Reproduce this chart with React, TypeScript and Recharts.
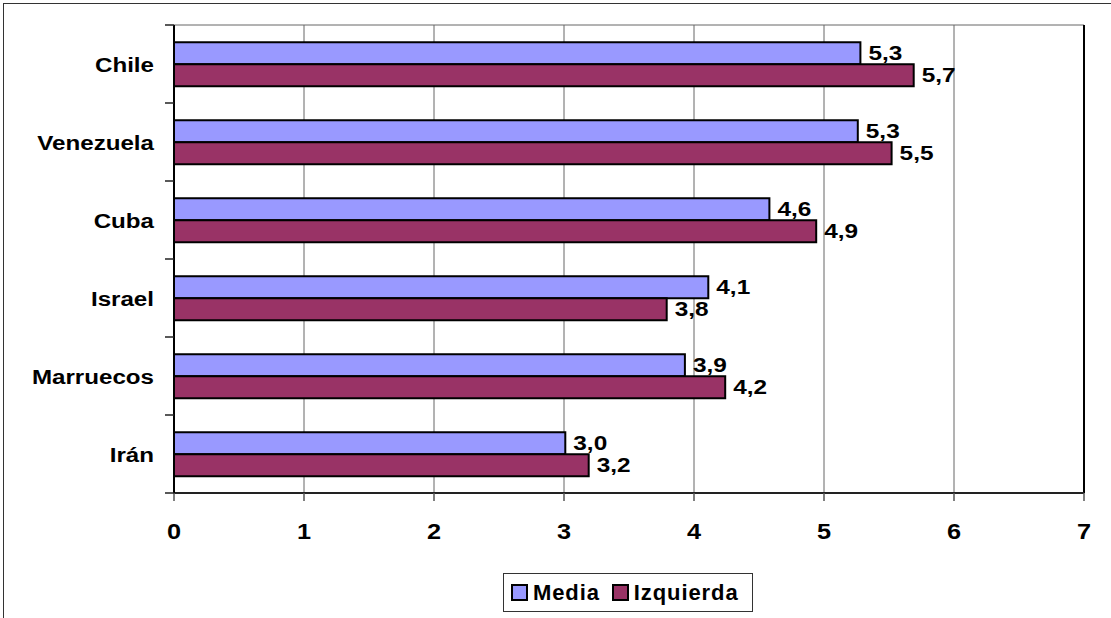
import React from 'react';
import {
  BarChart,
  Bar,
  XAxis,
  YAxis,
  CartesianGrid,
  Legend,
  LabelList,
  ReferenceLine,
} from 'recharts';

const categories = ['Chile', 'Venezuela', 'Cuba', 'Israel', 'Marruecos', 'Irán'];
const mediaValues = [5.28, 5.26, 4.58, 4.11, 3.93, 3.01];
const izquierdaValues = [5.69, 5.52, 4.94, 3.79, 4.24, 3.19];
const xTicks = [0, 1, 2, 3, 4, 5, 6, 7];
const seriesNames = ['Media', 'Izquierda'];
const seriesColors = ['#9999FF', '#993366'];

const data = categories.map((name, i) => ({
  name,
  [seriesNames[0]]: mediaValues[i],
  [seriesNames[1]]: izquierdaValues[i],
}));

const FONT = 'Arial, "Liberation Sans", sans-serif';
const STRETCH = 1.15;
const HALF_BAND = 39;

const fmt = (v: number) => v.toFixed(1).replace('.', ',');

const YTick = (props: any) => {
  const { x, y, payload, index } = props;
  const axisX = x + 20;
  const last = index === categories.length - 1;
  return (
    <g>
      <line x1={axisX - 9} x2={axisX} y1={y - HALF_BAND} y2={y - HALF_BAND} stroke="#222" strokeWidth={1.5} />
      {last && (
        <line x1={axisX - 9} x2={axisX} y1={y + HALF_BAND} y2={y + HALF_BAND} stroke="#222" strokeWidth={1.5} />
      )}
      <g transform={`translate(${x},${y}) scale(${STRETCH},1)`}>
        <text x={0} y={0} dy="0.36em" textAnchor="end" fontSize={21} fontWeight="bold" fill="#000" fontFamily={FONT}>
          {payload.value}
        </text>
      </g>
    </g>
  );
};

const XTick = (props: any) => {
  const { x, y, payload } = props;
  return (
    <g transform={`translate(${x},${y + 35.5}) scale(${STRETCH},1)`}>
      <text x={0} y={0} textAnchor="middle" fontSize={22} fontWeight="bold" fill="#000" fontFamily={FONT}>
        {payload.value}
      </text>
    </g>
  );
};

const ValueLabel = (props: any) => {
  const { x, y, width, height, value } = props;
  const tx = Number(x) + Number(width) + 8;
  const ty = Number(y) + Number(height) / 2;
  return (
    <g transform={`translate(${tx},${ty}) scale(1.22,1)`}>
      <text x={0} y={0} dy="0.34em" textAnchor="start" fontSize={20} fontWeight="bold" fill="#000" fontFamily={FONT}>
        {fmt(Number(value))}
      </text>
    </g>
  );
};

const LegendBox = (props: any) => {
  const payload = [...(props.payload || [])].sort(
    (a: any, b: any) => seriesNames.indexOf(a.value) - seriesNames.indexOf(b.value)
  );
  return (
    <div
      style={{
        boxSizing: 'border-box',
        width: 250,
        height: 39,
        border: '1px solid #333',
        background: '#fff',
        display: 'flex',
        alignItems: 'center',
        paddingLeft: 7,
        fontFamily: FONT,
        fontWeight: 'bold',
        fontSize: 22,
        letterSpacing: 0.9,
        color: '#000',
      }}
    >
      {payload.map((p: any, i: number) => (
        <div key={i} style={{ display: 'flex', alignItems: 'center', marginRight: i === 0 ? 12 : 0 }}>
          <span
            style={{
              display: 'inline-block',
              boxSizing: 'border-box',
              width: 17,
              height: 17,
              border: '2px solid #000',
              background: p.color,
              marginRight: 5,
            }}
          />
          <span style={{ lineHeight: '22px' }}>{p.value}</span>
        </div>
      ))}
    </div>
  );
};

export default function App() {
  return (
    <div
      style={{
        position: 'absolute',
        left: 0,
        top: 0,
        width: 1111,
        height: 618,
        overflow: 'hidden',
        background: '#fff',
        fontFamily: FONT,
      }}
    >
      <div
        style={{
          position: 'absolute',
          left: 3,
          top: 3,
          width: 1300,
          height: 900,
          border: '1px solid #333',
        }}
      />
      <div style={{ position: 'absolute', left: 0, top: 0 }}>
        <BarChart
          width={1111}
          height={618}
          data={data}
          layout="vertical"
          margin={{ top: 25, right: 27, left: 0, bottom: 85 }}
          barCategoryGap="22%"
          barGap={0}
        >
          <CartesianGrid
            stroke="#666"
            strokeWidth={1}
            horizontalPoints={[25]}
            vertical={true}
          />
          <XAxis
            type="number"
            domain={[0, 7]}
            ticks={xTicks}
            interval={0}
            height={40}
            tickSize={8}
            tickMargin={2}
            axisLine={{ stroke: '#222', strokeWidth: 2 }}
            tickLine={{ stroke: '#555', strokeWidth: 1.5 }}
            tick={<XTick />}
          />
          <YAxis
            type="category"
            dataKey="name"
            width={174}
            tickSize={9}
            tickMargin={11}
            interval={0}
            axisLine={{ stroke: '#000', strokeWidth: 2 }}
            tickLine={false}
            tick={<YTick />}
          />
          <ReferenceLine x={7} stroke="#000" strokeWidth={2} />
          <Legend
            layout="horizontal"
            verticalAlign="middle"
            align="center"
            itemSorter={null as any}
            content={<LegendBox />}
            wrapperStyle={{ left: 503, top: 573, width: 250, height: 39 }}
          />
          {seriesNames.map((s, i) => (
            <Bar
              key={s}
              dataKey={s}
              name={s}
              fill={seriesColors[i]}
              stroke="#000"
              strokeWidth={2}
              isAnimationActive={false}
            >
              <LabelList dataKey={s} content={<ValueLabel />} />
            </Bar>
          ))}
        </BarChart>
      </div>
    </div>
  );
}
